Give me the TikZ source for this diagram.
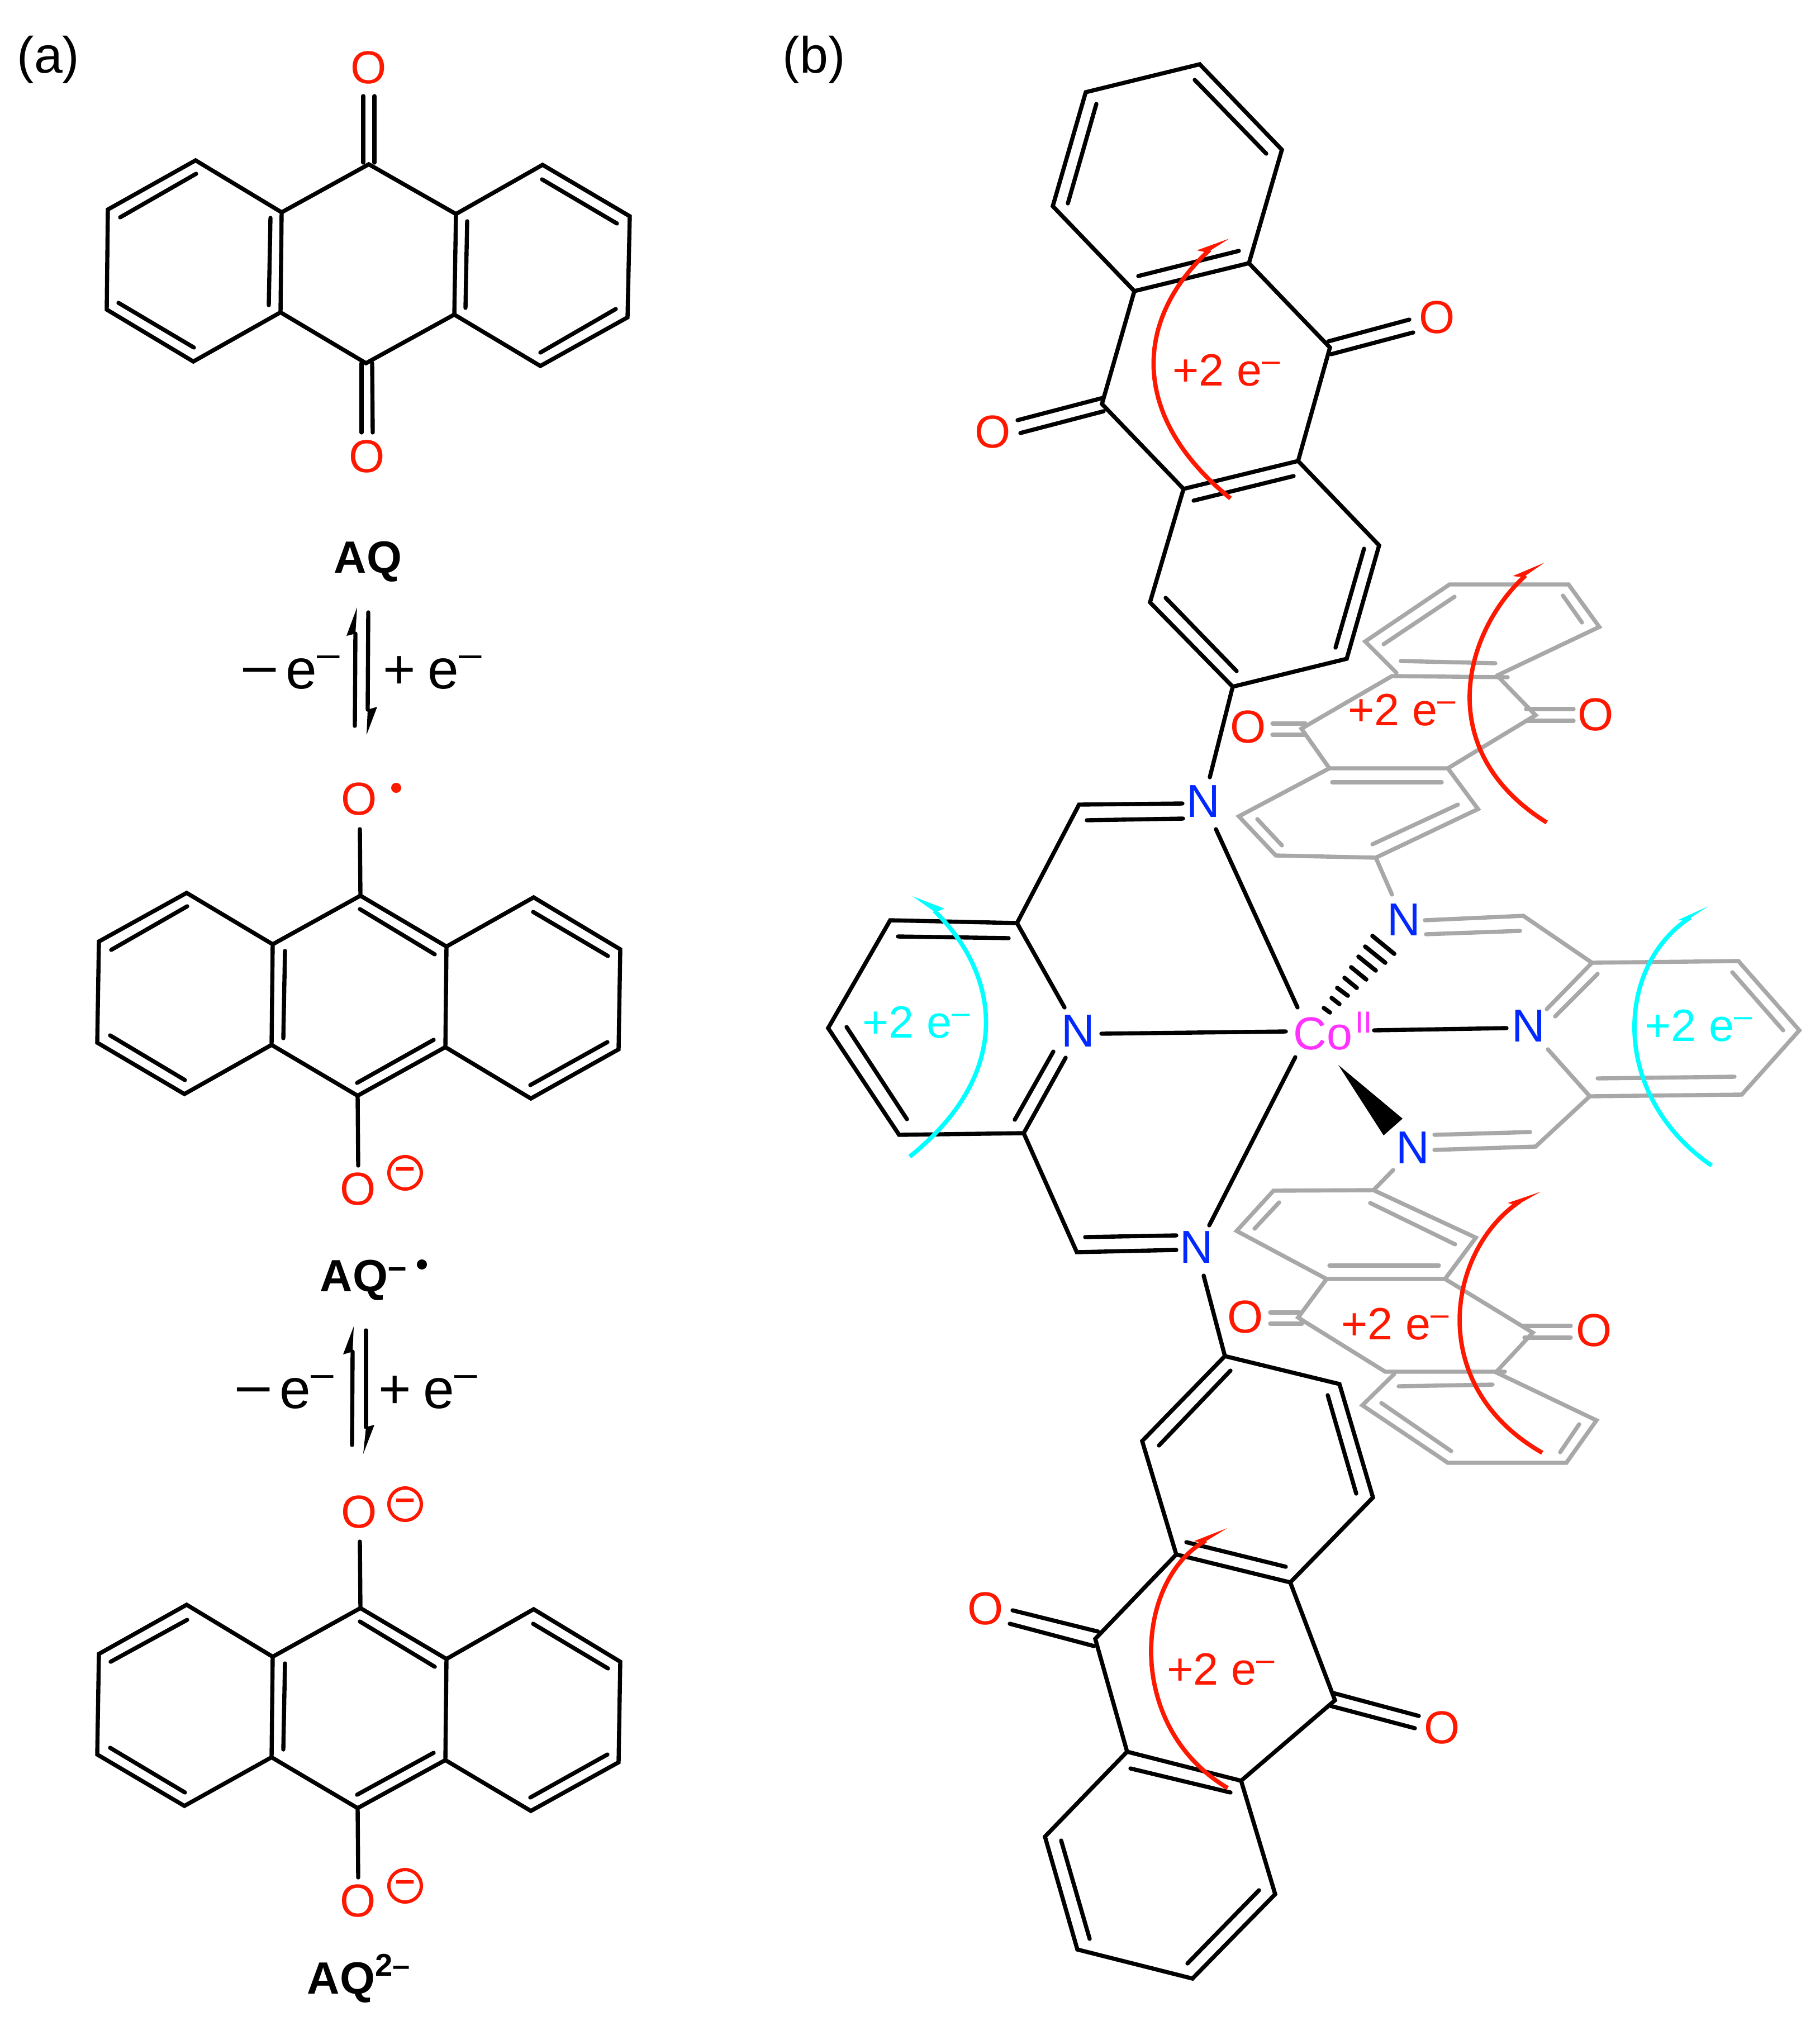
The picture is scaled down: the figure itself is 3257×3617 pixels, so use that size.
\documentclass[tikz,border=0pt]{standalone}
\usepackage{graphicx}
\usepackage{fontspec}
\setmainfont{Liberation Sans}
\usepackage{tikz}
\definecolor{oxyred}{RGB}{255,24,0}
\definecolor{nitblue}{RGB}{0,40,255}
\definecolor{cobpink}{RGB}{255,50,255}
\definecolor{ligcyan}{RGB}{0,255,255}
\definecolor{liggray}{RGB}{168,168,168}
\newcommand{\etwo}{e\raisebox{7.3pt}{\fontsize{16.5}{17}\selectfont –}}
\newcommand{\eredox}{e\raisebox{10.8pt}{\fontsize{20.7}{20.7}\selectfont –}}
\tikzset{
  bond/.style={line width=2.1pt, line cap=round, line join=miter},
  gbond/.style={bond, draw=liggray},
  hash/.style={line width=2.2pt, line cap=round},
  oxy/.style={text=oxyred, inner sep=0pt, font=\fontsize{23.5}{28}\selectfont},
  nit/.style={text=nitblue, inner sep=0pt, font=\fontsize{23.5}{28}\selectfont},
  charge/.style={circle, draw=oxyred, text=oxyred, line width=1.7pt, inner sep=0pt, minimum size=0.58cm, font=\fontsize{18}{18}\selectfont\bfseries},
  raddot/.style={circle, inner sep=0pt, minimum size=0.18cm},
  paneltag/.style={anchor=base west, inner sep=0pt, font=\fontsize{26}{30}\selectfont},
  aqname/.style={anchor=base west, inner sep=0pt, font=\fontsize{23}{28}\selectfont\bfseries},
  redox/.style={anchor=base west, inner sep=0pt, font=\fontsize{28.5}{34}\selectfont},
  twoe/.style={anchor=base west, inner sep=0pt, font=\fontsize{23}{28}\selectfont},
  curly/.style={line width=2.2pt}
}
\begin{document}
\begin{tikzpicture}[x=0.01cm, y=-0.01cm]
  \useasboundingbox (0, 0) rectangle (3257, 3617);
  \node[paneltag] (panela) at (30, 130) {(a)};
  \node[paneltag] (panelb) at (1400, 130) {(b)};
  % AQ
  \coordinate (p1) at (350, 287);
  \coordinate (p2) at (193, 375);
  \coordinate (p3) at (191, 554);
  \coordinate (p4) at (346, 647);
  \coordinate (p5) at (502, 559);
  \coordinate (p6) at (504, 380);
  \coordinate (p7) at (660, 294);
  \coordinate (p8) at (816, 383);
  \coordinate (p9) at (813, 563);
  \coordinate (p10) at (655, 650);
  \coordinate (p11) at (971, 295);
  \coordinate (p12) at (1127, 387);
  \coordinate (p13) at (1123, 568);
  \coordinate (p14) at (967, 655);
  \draw[bond] (p6) -- (p1) -- (p2) -- (p3) -- (p4) -- (p5) -- cycle;
  \draw[bond] (p6) -- (p7) -- (p8) -- (p9) -- (p10) -- (p5);
  \draw[bond] (p8) -- (p11) -- (p12) -- (p13) -- (p14) -- (p9);
  \coordinate (p1a) at (351, 311);
  \coordinate (p1b) at (215, 389);
  \coordinate (p2a) at (212, 542);
  \coordinate (p2b) at (347, 622);
  \coordinate (p3a) at (484, 390);
  \coordinate (p3b) at (481, 546);
  \coordinate (p4a) at (836, 396);
  \coordinate (p4b) at (833, 551);
  \coordinate (p5a) at (970, 321);
  \coordinate (p5b) at (1104, 400);
  \coordinate (p6a) at (1102, 553);
  \coordinate (p6b) at (967, 631);
  \draw[bond] (p1a) -- (p1b);
  \draw[bond] (p2a) -- (p2b);
  \draw[bond] (p3a) -- (p3b);
  \draw[bond] (p4a) -- (p4b);
  \draw[bond] (p5a) -- (p5b);
  \draw[bond] (p6a) -- (p6b);
  \node[oxy] (po1) at (660, 121) {O};
  \node[oxy] (po2) at (657, 817) {O};
  \coordinate (p7a) at (650, 172);
  \coordinate (p7b) at (650, 291);
  \coordinate (p7c) at (670, 172);
  \coordinate (p7d) at (670, 291);
  \coordinate (p8a) at (647, 774);
  \coordinate (p8b) at (647, 650);
  \coordinate (p8c) at (667, 774);
  \coordinate (p8d) at (666, 650);
  \draw[bond] (p7a) -- (p7b);
  \draw[bond] (p7c) -- (p7d);
  \draw[bond] (p8a) -- (p8b);
  \draw[bond] (p8c) -- (p8d);
  \node[aqname] (pname) at (597, 1025) {AQ};
  % first equilibrium
  \coordinate (e1a) at (635, 1299);
  \coordinate (e1b) at (636, 1134);
  \coordinate (e1c) at (639, 1087);
  \coordinate (e1d) at (620, 1138);
  \coordinate (e1e) at (659, 1096);
  \coordinate (e1f) at (658, 1270);
  \coordinate (e1g) at (656, 1315);
  \coordinate (e1h) at (675, 1265);
  \draw[bond] (e1a) -- (e1b);
  \draw[bond] (e1e) -- (e1f);
  \fill (e1c) -- (e1d) -- (e1b) -- cycle;
  \fill (e1g) -- (e1h) -- (e1f) -- cycle;
  \node[redox] (e1l) at (429, 1232) {\scalebox{1.2}[1]{−}\kern3.4pt\eredox};
  \node[redox] (e1r) at (685, 1232) {+\kern6pt\eredox};
  % radical anion
  \coordinate (q1) at (334, 1598);
  \coordinate (q2) at (177, 1685);
  \coordinate (q3) at (174, 1866);
  \coordinate (q4) at (330, 1958);
  \coordinate (q5) at (486, 1870);
  \coordinate (q6) at (488, 1690);
  \coordinate (q7) at (645, 1603);
  \coordinate (q8) at (799, 1694);
  \coordinate (q9) at (797, 1874);
  \coordinate (q10) at (640, 1961);
  \coordinate (q11) at (955, 1606);
  \coordinate (q12) at (1110, 1699);
  \coordinate (q13) at (1107, 1878);
  \coordinate (q14) at (950, 1966);
  \draw[bond] (q6) -- (q1) -- (q2) -- (q3) -- (q4) -- (q5) -- cycle;
  \draw[bond] (q6) -- (q7) -- (q8) -- (q9) -- (q10) -- (q5);
  \draw[bond] (q8) -- (q11) -- (q12) -- (q13) -- (q14) -- (q9);
  \coordinate (q1a) at (335, 1622);
  \coordinate (q1b) at (199, 1700);
  \coordinate (q2a) at (197, 1853);
  \coordinate (q2b) at (331, 1933);
  \coordinate (q3a) at (510, 1702);
  \coordinate (q3b) at (507, 1858);
  \coordinate (q4a) at (644, 1627);
  \coordinate (q4b) at (778, 1708);
  \coordinate (q5a) at (639, 1938);
  \coordinate (q5b) at (776, 1861);
  \coordinate (q6a) at (954, 1632);
  \coordinate (q6b) at (1088, 1711);
  \coordinate (q7a) at (949, 1942);
  \coordinate (q7b) at (1087, 1865);
  \coordinate (q8a) at (644, 1484);
  \coordinate (q8b) at (641, 2086);
  \draw[bond] (q1a) -- (q1b);
  \draw[bond] (q2a) -- (q2b);
  \draw[bond] (q3a) -- (q3b);
  \draw[bond] (q4a) -- (q4b);
  \draw[bond] (q5a) -- (q5b);
  \draw[bond] (q6a) -- (q6b);
  \draw[bond] (q7a) -- (q7b);
  \draw[bond] (q8a) -- (q7);
  \draw[bond] (q10) -- (q8b);
  \node[oxy] (qo1) at (643, 1430) {O};
  \node[raddot, fill=oxyred] (qdot) at (709, 1410) {};
  \node[oxy] (qo2) at (641, 2128) {O};
  \node[charge] (qminus) at (725, 2099) {–};
  \node[aqname] (qname) at (572, 2311) {AQ\raisebox{6.8pt}{\fontsize{17}{17}\selectfont –}};
  \node[raddot, fill=black] (qrad) at (755, 2263) {};
  % second equilibrium
  \coordinate (e2a) at (630, 2586);
  \coordinate (e2b) at (631, 2419);
  \coordinate (e2c) at (633, 2374);
  \coordinate (e2d) at (614, 2424);
  \coordinate (e2e) at (655, 2381);
  \coordinate (e2f) at (655, 2554);
  \coordinate (e2g) at (650, 2602);
  \coordinate (e2h) at (670, 2550);
  \draw[bond] (e2a) -- (e2b);
  \draw[bond] (e2e) -- (e2f);
  \fill (e2c) -- (e2d) -- (e2b) -- cycle;
  \fill (e2g) -- (e2h) -- (e2f) -- cycle;
  \node[redox] (e2l) at (418, 2520) {\scalebox{1.2}[1]{−}\kern3.4pt\eredox};
  \node[redox] (e2r) at (677, 2520) {+\kern6pt\eredox};
  % dianion
  \coordinate (r1) at (334, 2872);
  \coordinate (r2) at (177, 2960);
  \coordinate (r3) at (174, 3140);
  \coordinate (r4) at (330, 3232);
  \coordinate (r5) at (486, 3145);
  \coordinate (r6) at (488, 2965);
  \coordinate (r7) at (645, 2878);
  \coordinate (r8) at (799, 2969);
  \coordinate (r9) at (797, 3150);
  \coordinate (r10) at (640, 3236);
  \coordinate (r11) at (955, 2880);
  \coordinate (r12) at (1110, 2974);
  \coordinate (r13) at (1107, 3154);
  \coordinate (r14) at (950, 3241);
  \draw[bond] (r6) -- (r1) -- (r2) -- (r3) -- (r4) -- (r5) -- cycle;
  \draw[bond] (r6) -- (r7) -- (r8) -- (r9) -- (r10) -- (r5);
  \draw[bond] (r8) -- (r11) -- (r12) -- (r13) -- (r14) -- (r9);
  \coordinate (r1a) at (335, 2899);
  \coordinate (r1b) at (198, 2974);
  \coordinate (r2a) at (197, 3128);
  \coordinate (r2b) at (331, 3208);
  \coordinate (r3a) at (510, 2977);
  \coordinate (r3b) at (507, 3131);
  \coordinate (r4a) at (644, 2902);
  \coordinate (r4b) at (778, 2983);
  \coordinate (r5a) at (639, 3212);
  \coordinate (r5b) at (776, 3137);
  \coordinate (r6a) at (954, 2906);
  \coordinate (r6b) at (1088, 2986);
  \coordinate (r7a) at (949, 3217);
  \coordinate (r7b) at (1087, 3140);
  \coordinate (r8a) at (644, 2759);
  \coordinate (r8b) at (641, 3360);
  \draw[bond] (r1a) -- (r1b);
  \draw[bond] (r2a) -- (r2b);
  \draw[bond] (r3a) -- (r3b);
  \draw[bond] (r4a) -- (r4b);
  \draw[bond] (r5a) -- (r5b);
  \draw[bond] (r6a) -- (r6b);
  \draw[bond] (r7a) -- (r7b);
  \draw[bond] (r8a) -- (r7);
  \draw[bond] (r10) -- (r8b);
  \node[oxy] (ro1) at (643, 2706) {O};
  \node[charge] (rminus1) at (725, 2692) {–};
  \node[oxy] (ro2) at (641, 3402) {O};
  \node[charge] (rminus2) at (725, 3375) {–};
  \node[aqname] (rname) at (549, 3568) {AQ\raisebox{9pt}{\fontsize{16}{16}\selectfont\bfseries 2–}};
  % gray arm, upper anthraquinone
  \coordinate (g1) at (2462, 1535);
  \coordinate (g2) at (2283, 1531);
  \coordinate (g3) at (2217, 1461);
  \coordinate (g4) at (2379, 1375);
  \coordinate (g5) at (2591, 1375);
  \coordinate (g6) at (2645, 1448);
  \coordinate (g7) at (2329, 1304);
  \coordinate (g8) at (2491, 1210);
  \coordinate (g9) at (2698, 1212);
  \coordinate (g10) at (2748, 1280);
  \coordinate (g11) at (2499, 1204);
  \coordinate (g12) at (2443, 1148);
  \coordinate (g13) at (2594, 1046);
  \coordinate (g14) at (2807, 1046);
  \coordinate (g15) at (2862, 1122);
  \coordinate (g16) at (2679, 1209);
  \draw[gbond] (g1) -- (g2) -- (g3) -- (g4) -- (g5) -- (g6) -- cycle;
  \draw[gbond] (g4) -- (g7) -- (g8) -- (g9);
  \draw[gbond] (g5) -- (g10) -- (g16);
  \draw[gbond] (g11) -- (g12) -- (g13) -- (g14) -- (g15) -- (g16);
  \coordinate (g1a) at (2294, 1513);
  \coordinate (g1b) at (2250, 1466);
  \coordinate (g2a) at (2384, 1400);
  \coordinate (g2b) at (2580, 1400);
  \coordinate (g3a) at (2456, 1511);
  \coordinate (g3b) at (2609, 1440);
  \coordinate (g4a) at (2507, 1183);
  \coordinate (g4b) at (2676, 1187);
  \coordinate (g5a) at (2476, 1153);
  \coordinate (g5b) at (2603, 1068);
  \coordinate (g6a) at (2797, 1066);
  \coordinate (g6b) at (2831, 1114);
  \coordinate (g7a) at (2277, 1295);
  \coordinate (g7b) at (2336, 1295);
  \coordinate (g7c) at (2277, 1315);
  \coordinate (g7d) at (2335, 1315);
  \coordinate (g8a) at (2731, 1269);
  \coordinate (g8b) at (2816, 1269);
  \coordinate (g8c) at (2731, 1290);
  \coordinate (g8d) at (2816, 1290);
  \draw[gbond] (g1a) -- (g1b);
  \draw[gbond] (g2a) -- (g2b);
  \draw[gbond] (g3a) -- (g3b);
  \draw[gbond] (g4a) -- (g4b);
  \draw[gbond] (g5a) -- (g5b);
  \draw[gbond] (g6a) -- (g6b);
  \draw[gbond] (g7a) -- (g7b);
  \draw[gbond] (g7c) -- (g7d);
  \draw[gbond] (g8a) -- (g8b);
  \draw[gbond] (g8c) -- (g8d);
  \node[oxy] (go1) at (2234, 1301) {O};
  \node[oxy] (go2) at (2856, 1279) {O};
  % gray arm, pyridine
  \coordinate (n1b) at (2491, 1601);
  \coordinate (k1) at (2550, 1647);
  \coordinate (k2) at (2726, 1639);
  \coordinate (k3) at (2849, 1723);
  \coordinate (k4) at (3111, 1720);
  \coordinate (k5) at (3220, 1844);
  \coordinate (k6) at (3117, 1959);
  \coordinate (k7) at (2845, 1962);
  \coordinate (k8) at (2770, 1878);
  \coordinate (k9) at (2768, 1806);
  \coordinate (k10) at (2748, 2052);
  \coordinate (k11) at (2567, 2058);
  \draw[gbond] (g1) -- (n1b);
  \draw[gbond] (k1) -- (k2) -- (k3) -- (k4) -- (k5) -- (k6) -- (k7) -- (k8);
  \draw[gbond] (k3) -- (k9);
  \draw[gbond] (k7) -- (k10) -- (k11);
  \coordinate (k1a) at (2552, 1672);
  \coordinate (k1b) at (2720, 1666);
  \coordinate (k2a) at (2859, 1743);
  \coordinate (k2b) at (2783, 1819);
  \coordinate (k3a) at (3100, 1740);
  \coordinate (k3b) at (3191, 1844);
  \coordinate (k4a) at (2859, 1930);
  \coordinate (k4b) at (3104, 1927);
  \coordinate (k5a) at (2738, 2026);
  \coordinate (k5b) at (2567, 2031);
  \draw[gbond] (k1a) -- (k1b);
  \draw[gbond] (k2a) -- (k2b);
  \draw[gbond] (k3a) -- (k3b);
  \draw[gbond] (k4a) -- (k4b);
  \draw[gbond] (k5a) -- (k5b);
  % gray arm, lower anthraquinone
  \coordinate (n2b) at (2493, 2094);
  \coordinate (h1) at (2458, 2130);
  \coordinate (h2) at (2279, 2131);
  \coordinate (h3) at (2213, 2203);
  \coordinate (h4) at (2374, 2289);
  \coordinate (h5) at (2586, 2289);
  \coordinate (h6) at (2641, 2215);
  \coordinate (h7) at (2323, 2358);
  \coordinate (h8) at (2479, 2455);
  \coordinate (h9) at (2693, 2455);
  \coordinate (h10) at (2743, 2385);
  \coordinate (h11) at (2495, 2459);
  \coordinate (h12) at (2438, 2515);
  \coordinate (h13) at (2591, 2618);
  \coordinate (h14) at (2803, 2618);
  \coordinate (h15) at (2857, 2542);
  \coordinate (h16) at (2677, 2456);
  \draw[gbond] (n2b) -- (h1);
  \draw[gbond] (h1) -- (h2) -- (h3) -- (h4) -- (h5) -- (h6) -- cycle;
  \draw[gbond] (h4) -- (h7) -- (h8) -- (h9);
  \draw[gbond] (h5) -- (h10) -- (h16);
  \draw[gbond] (h11) -- (h12) -- (h13) -- (h14) -- (h15) -- (h16);
  \coordinate (h1a) at (2289, 2152);
  \coordinate (h1b) at (2245, 2199);
  \coordinate (h2a) at (2379, 2265);
  \coordinate (h2b) at (2575, 2265);
  \coordinate (h3a) at (2452, 2153);
  \coordinate (h3b) at (2604, 2227);
  \coordinate (h4a) at (2503, 2481);
  \coordinate (h4b) at (2671, 2478);
  \coordinate (h5a) at (2472, 2511);
  \coordinate (h5b) at (2597, 2597);
  \coordinate (h6a) at (2792, 2599);
  \coordinate (h6b) at (2826, 2549);
  \coordinate (h7a) at (2273, 2349);
  \coordinate (h7b) at (2326, 2349);
  \coordinate (h7c) at (2273, 2369);
  \coordinate (h7d) at (2330, 2369);
  \coordinate (h8a) at (2728, 2373);
  \coordinate (h8b) at (2811, 2373);
  \coordinate (h8c) at (2728, 2394);
  \coordinate (h8d) at (2811, 2394);
  \draw[gbond] (h1a) -- (h1b);
  \draw[gbond] (h2a) -- (h2b);
  \draw[gbond] (h3a) -- (h3b);
  \draw[gbond] (h4a) -- (h4b);
  \draw[gbond] (h5a) -- (h5b);
  \draw[gbond] (h6a) -- (h6b);
  \draw[gbond] (h7a) -- (h7b);
  \draw[gbond] (h7c) -- (h7d);
  \draw[gbond] (h8a) -- (h8b);
  \draw[gbond] (h8c) -- (h8d);
  \node[oxy] (ho1) at (2229, 2357) {O};
  \node[oxy] (ho2) at (2853, 2381) {O};
  % black arm, upper anthraquinone
  \coordinate (u1) at (2147, 115);
  \coordinate (u2) at (1943, 165);
  \coordinate (u3) at (1884, 369);
  \coordinate (u4) at (2030, 521);
  \coordinate (u5) at (2235, 471);
  \coordinate (u6) at (2294, 268);
  \coordinate (u7) at (1972, 723);
  \coordinate (u8) at (2380, 622);
  \coordinate (u9) at (2118, 875);
  \coordinate (u10) at (2323, 825);
  \coordinate (u11) at (2058, 1078);
  \coordinate (u12) at (2468, 976);
  \coordinate (u13) at (2410, 1179);
  \coordinate (u14) at (2206, 1229);
  \coordinate (u15) at (2165, 1391);
  \draw[bond] (u5) -- (u6) -- (u1) -- (u2) -- (u3) -- (u4) -- cycle;
  \draw[bond] (u4) -- (u7) -- (u9);
  \draw[bond] (u5) -- (u8) -- (u10);
  \draw[bond] (u9) -- (u10) -- (u12) -- (u13) -- (u14) -- (u11) -- cycle;
  \draw[bond] (u14) -- (u15);
  \coordinate (u1a) at (1962, 186);
  \coordinate (u1b) at (1911, 364);
  \coordinate (u2a) at (2138, 143);
  \coordinate (u2b) at (2266, 275);
  \coordinate (u3a) at (2037, 494);
  \coordinate (u3b) at (2217, 449);
  \coordinate (u4a) at (2136, 896);
  \coordinate (u4b) at (2315, 852);
  \coordinate (u5a) at (2441, 982);
  \coordinate (u5b) at (2390, 1159);
  \coordinate (u6a) at (2086, 1070);
  \coordinate (u6b) at (2213, 1201);
  \coordinate (u7a) at (1821, 752);
  \coordinate (u7b) at (1974, 712);
  \coordinate (u7c) at (1826, 775);
  \coordinate (u7d) at (1975, 736);
  \coordinate (u8a) at (2377, 611);
  \coordinate (u8b) at (2522, 572);
  \coordinate (u8c) at (2382, 634);
  \coordinate (u8d) at (2529, 595);
  \draw[bond] (u1a) -- (u1b);
  \draw[bond] (u2a) -- (u2b);
  \draw[bond] (u3a) -- (u3b);
  \draw[bond] (u4a) -- (u4b);
  \draw[bond] (u5a) -- (u5b);
  \draw[bond] (u6a) -- (u6b);
  \draw[bond] (u7a) -- (u7b);
  \draw[bond] (u7c) -- (u7d);
  \draw[bond] (u8a) -- (u8b);
  \draw[bond] (u8c) -- (u8d);
  \node[oxy] (uo1) at (1777, 773) {O};
  \node[oxy] (uo2) at (2572, 568) {O};
  % black arm, pyridine
  \coordinate (b1) at (2116, 1438);
  \coordinate (b2) at (1931, 1440);
  \coordinate (b3) at (1820, 1652);
  \coordinate (b4) at (1593, 1647);
  \coordinate (b5) at (1482, 1840);
  \coordinate (b6) at (1609, 2031);
  \coordinate (b7) at (1832, 2028);
  \coordinate (b8) at (1905, 1803);
  \coordinate (b9) at (1907, 1893);
  \coordinate (b10) at (1927, 2241);
  \coordinate (b11) at (2105, 2237);
  \draw[bond] (b1) -- (b2) -- (b3) -- (b4) -- (b5) -- (b6) -- (b7) -- (b9);
  \draw[bond] (b3) -- (b8);
  \draw[bond] (b7) -- (b10) -- (b11);
  \coordinate (b1a) at (1945, 1468);
  \coordinate (b1b) at (2117, 1465);
  \coordinate (b2a) at (1607, 1676);
  \coordinate (b2b) at (1805, 1679);
  \coordinate (b3a) at (1515, 1838);
  \coordinate (b3b) at (1623, 2003);
  \coordinate (b4a) at (1885, 1882);
  \coordinate (b4b) at (1816, 2004);
  \coordinate (b5a) at (1942, 2214);
  \coordinate (b5b) at (2105, 2211);
  \draw[bond] (b1a) -- (b1b);
  \draw[bond] (b2a) -- (b2b);
  \draw[bond] (b3a) -- (b3b);
  \draw[bond] (b4a) -- (b4b);
  \draw[bond] (b5a) -- (b5b);
  % black arm, lower anthraquinone
  \coordinate (d0) at (2154, 2283);
  \coordinate (d1) at (2192, 2427);
  \coordinate (d2) at (2044, 2579);
  \coordinate (d3) at (2105, 2782);
  \coordinate (d4) at (2309, 2832);
  \coordinate (d5) at (2457, 2680);
  \coordinate (d6) at (2397, 2477);
  \coordinate (d7) at (1960, 2933);
  \coordinate (d8) at (2017, 3135);
  \coordinate (d9) at (2389, 3043);
  \coordinate (d10) at (2221, 3187);
  \coordinate (d11) at (1870, 3287);
  \coordinate (d12) at (1928, 3489);
  \coordinate (d13) at (2134, 3541);
  \coordinate (d14) at (2282, 3390);
  \draw[bond] (d0) -- (d1);
  \draw[bond] (d1) -- (d2) -- (d3) -- (d4) -- (d5) -- (d6) -- cycle;
  \draw[bond] (d3) -- (d7) -- (d8);
  \draw[bond] (d4) -- (d9) -- (d10);
  \draw[bond] (d8) -- (d11) -- (d12) -- (d13) -- (d14) -- (d10) -- cycle;
  \coordinate (d1a) at (2202, 2453);
  \coordinate (d1b) at (2074, 2587);
  \coordinate (d2a) at (2376, 2497);
  \coordinate (d2b) at (2427, 2673);
  \coordinate (d3a) at (2123, 2760);
  \coordinate (d3b) at (2301, 2804);
  \coordinate (d4a) at (2023, 3165);
  \coordinate (d4b) at (2202, 3208);
  \coordinate (d5a) at (1899, 3294);
  \coordinate (d5b) at (1950, 3470);
  \coordinate (d6a) at (2125, 3514);
  \coordinate (d6b) at (2253, 3383);
  \coordinate (d7a) at (1965, 2920);
  \coordinate (d7b) at (1812, 2882);
  \coordinate (d7c) at (1958, 2946);
  \coordinate (d7d) at (1807, 2906);
  \coordinate (d8a) at (2386, 3030);
  \coordinate (d8b) at (2539, 3071);
  \coordinate (d8c) at (2381, 3053);
  \coordinate (d8d) at (2532, 3093);
  \draw[bond] (d1a) -- (d1b);
  \draw[bond] (d2a) -- (d2b);
  \draw[bond] (d3a) -- (d3b);
  \draw[bond] (d4a) -- (d4b);
  \draw[bond] (d5a) -- (d5b);
  \draw[bond] (d6a) -- (d6b);
  \draw[bond] (d7a) -- (d7b);
  \draw[bond] (d7c) -- (d7d);
  \draw[bond] (d8a) -- (d8b);
  \draw[bond] (d8c) -- (d8d);
  \node[oxy] (do1) at (1764, 2879) {O};
  \node[oxy] (do2) at (2581, 3092) {O};
  % metal centre
  \node[twoe, text=cobpink, font=\fontsize{23.5}{28}\selectfont] (co) at (2314, 1878) {Co\raisebox{8.4pt}{\kern1.5pt\fontsize{15.5}{16}\selectfont II}};
  \node[nit] (nb1) at (2153, 1434) {N};
  \node[nit] (nb2) at (1929, 1845) {N};
  \node[nit] (nb3) at (2141, 2232) {N};
  \node[nit] (ng1) at (2512, 1646) {N};
  \node[nit] (ng2) at (2735, 1836) {N};
  \node[nit] (ng3) at (2528, 2054) {N};
  \coordinate (m1a) at (2176, 1484);
  \coordinate (m1b) at (2322, 1803);
  \coordinate (m2a) at (1971, 1850);
  \coordinate (m2b) at (2301, 1846);
  \coordinate (m3a) at (2164, 2193);
  \coordinate (m3b) at (2318, 1892);
  \coordinate (m4a) at (2459, 1844);
  \coordinate (m4b) at (2696, 1840);
  \draw[bond] (m1a) -- (m1b);
  \draw[bond] (m2a) -- (m2b);
  \draw[bond] (m3a) -- (m3b);
  \draw[bond] (m4a) -- (m4b);
  \coordinate (w1) at (2395, 1906);
  \coordinate (w2) at (2510, 2002);
  \coordinate (w3) at (2476, 2032);
  \fill (w1) -- (w2) -- (w3) -- cycle;
  \coordinate (s1a) at (2369, 1804);
  \coordinate (s1b) at (2380, 1812);
  \coordinate (s2a) at (2383, 1786);
  \coordinate (s2b) at (2397, 1797);
  \coordinate (s3a) at (2393, 1768);
  \coordinate (s3b) at (2412, 1782);
  \coordinate (s4a) at (2406, 1750);
  \coordinate (s4b) at (2428, 1768);
  \coordinate (s5a) at (2418, 1731);
  \coordinate (s5b) at (2445, 1753);
  \coordinate (s6a) at (2431, 1712);
  \coordinate (s6b) at (2462, 1737);
  \coordinate (s7a) at (2443, 1694);
  \coordinate (s7b) at (2479, 1723);
  \coordinate (s8a) at (2456, 1675);
  \coordinate (s8b) at (2495, 1707);
  \draw[hash] (s1a) -- (s1b);
  \draw[hash] (s2a) -- (s2b);
  \draw[hash] (s3a) -- (s3b);
  \draw[hash] (s4a) -- (s4b);
  \draw[hash] (s5a) -- (s5b);
  \draw[hash] (s6a) -- (s6b);
  \draw[hash] (s7a) -- (s7b);
  \draw[hash] (s8a) -- (s8b);
  % curved arrows
  \coordinate (a1s) at (2202, 892);
  \coordinate (a1e) at (2165, 447);
  \coordinate (a1t) at (2200, 427);
  \coordinate (a1b) at (2142, 448);
  \coordinate (a1n) at (2160, 452);
  \draw[curly, oxyred] (a1s) .. controls (2020, 745) and (2030, 570) .. (a1e);
  \fill[oxyred] (a1t) -- (a1b) -- (a1n) -- cycle;
  \coordinate (a2s) at (2768, 1472);
  \coordinate (a2e) at (2730, 1030);
  \coordinate (a2t) at (2764, 1007);
  \coordinate (a2b) at (2707, 1031);
  \coordinate (a2n) at (2726, 1033);
  \draw[curly, oxyred] (a2s) .. controls (2561, 1343) and (2620, 1130) .. (a2e);
  \fill[oxyred] (a2t) -- (a2b) -- (a2n) -- cycle;
  \coordinate (a3s) at (1628, 2070);
  \coordinate (a3e) at (1672, 1630);
  \coordinate (a3t) at (1633, 1604);
  \coordinate (a3b) at (1690, 1626);
  \coordinate (a3n) at (1674, 1633);
  \draw[curly, ligcyan] (a3s) .. controls (1815, 1920) and (1790, 1745) .. (a3e);
  \fill[ligcyan] (a3t) -- (a3b) -- (a3n) -- cycle;
  \coordinate (a4s) at (3063, 2086);
  \coordinate (a4e) at (3025, 1642);
  \coordinate (a4t) at (3057, 1622);
  \coordinate (a4b) at (3002, 1647);
  \coordinate (a4n) at (3019, 1647);
  \draw[curly, ligcyan] (a4s) .. controls (2880, 1960) and (2891, 1728) .. (a4e);
  \fill[ligcyan] (a4t) -- (a4b) -- (a4n) -- cycle;
  \coordinate (a5s) at (2760, 2600);
  \coordinate (a5e) at (2720, 2150);
  \coordinate (a5t) at (2757, 2133);
  \coordinate (a5b) at (2698, 2153);
  \coordinate (a5n) at (2714, 2157);
  \draw[curly, oxyred] (a5s) .. controls (2550, 2480) and (2589, 2238) .. (a5e);
  \fill[oxyred] (a5t) -- (a5b) -- (a5n) -- cycle;
  \coordinate (a6s) at (2197, 3200);
  \coordinate (a6e) at (2158, 2757);
  \coordinate (a6t) at (2196, 2735);
  \coordinate (a6b) at (2137, 2758);
  \coordinate (a6n) at (2152, 2762);
  \draw[curly, oxyred] (a6s) .. controls (2012, 3090) and (2030, 2828) .. (a6e);
  \fill[oxyred] (a6t) -- (a6b) -- (a6n) -- cycle;
  \node[twoe, text=oxyred] (t1) at (2098, 690) {+2 \etwo};
  \node[twoe, text=oxyred] (t2) at (2412, 1298) {+2 \etwo};
  \node[twoe, text=ligcyan] (t3) at (1543, 1857) {+2 \etwo};
  \node[twoe, text=ligcyan] (t4) at (2943, 1863) {+2 \etwo};
  \node[twoe, text=oxyred] (t5) at (2400, 2397) {+2 \etwo};
  \node[twoe, text=oxyred] (t6) at (2088, 3015) {+2 \etwo};
\end{tikzpicture}
\end{document}
